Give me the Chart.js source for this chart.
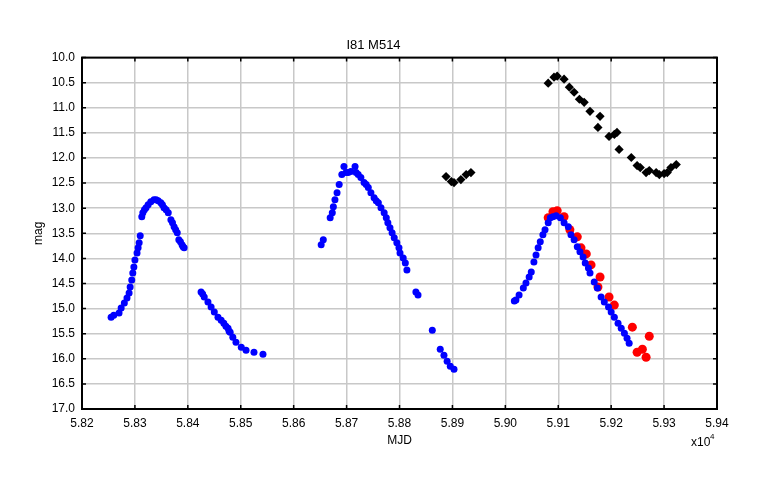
<!DOCTYPE html>
<html lang="en">
  <head>
    <meta charset="UTF-8" />
    <title>I81 M514</title>
    <script src="https://cdn.jsdelivr.net/npm/chart.js"></script>
    <style>
      html, body { margin: 0; padding: 0; background: #fff; }
      #wrap { width: 763px; height: 489px; }
    </style>
  </head>
  <body>
    <div id="wrap"><canvas id="lc"></canvas></div>

    <script>
      // Blue photometry (MJD, mag)
      const blueMjd = [
        58255, 58260, 58270, 58274, 58280, 58285, 58289, 58291, 58294, 58296,
        58298, 58300, 58304, 58306, 58308, 58310, 58313, 58315, 58318, 58321,
        58325, 58330, 58336, 58340, 58344, 58349, 58352, 58355, 58359, 58363,
        58368, 58371, 58374, 58377, 58380, 58383, 58386, 58389, 58391, 58393,
        58425, 58428, 58431, 58438, 58444, 58450, 58457, 58463, 58468, 58472,
        58476, 58478, 58480, 58485, 58491, 58501, 58510, 58525, 58542,
        58652, 58656, 58669, 58673, 58675, 58678, 58682, 58686, 58691, 58695,
        58699, 58703, 58708, 58716, 58718, 58722, 58727, 58733, 58737, 58741,
        58746, 58752, 58756, 58760, 58765, 58771, 58775, 58778, 58782, 58786,
        58790, 58795, 58799, 58801, 58807, 58811, 58814, 58831, 58835, 58862,
        58877, 58884, 58890, 58896, 58903,
        59017, 59020, 59026, 59034, 59039, 59045, 59049, 59054, 59058, 59062,
        59066, 59071, 59075, 59081, 59085, 59090, 59096, 59104, 59111, 59119,
        59124, 59130, 59136, 59141, 59147, 59151, 59157, 59160, 59168, 59174,
        59181, 59187, 59195, 59200, 59206, 59213, 59219, 59225, 59230, 59234
      ];
      const blueMag = [
        15.17, 15.13, 15.09, 14.99, 14.89, 14.79, 14.69, 14.57, 14.43, 14.29,
        14.17, 14.03, 13.89, 13.79, 13.69, 13.55, 13.17, 13.09, 13.03, 12.99,
        12.93, 12.87, 12.83, 12.83, 12.85, 12.89, 12.93, 12.99, 13.03, 13.09,
        13.23, 13.29, 13.37, 13.43, 13.49, 13.63, 13.67, 13.73, 13.77, 13.79,
        14.67, 14.71, 14.77, 14.87, 14.97, 15.07, 15.17, 15.23, 15.29, 15.35,
        15.39, 15.45, 15.47, 15.57, 15.67, 15.77, 15.83, 15.87, 15.91,
        13.73, 13.63, 13.19, 13.09, 12.97, 12.83, 12.69, 12.53, 12.33, 12.17,
        12.29, 12.29, 12.27, 12.17, 12.29, 12.33, 12.39, 12.49, 12.53, 12.59,
        12.69, 12.79, 12.85, 12.89, 12.99, 13.09, 13.19, 13.29, 13.39, 13.49,
        13.59, 13.69, 13.79, 13.89, 13.99, 14.09, 14.23, 14.67, 14.73, 15.43,
        15.81, 15.93, 16.05, 16.15, 16.21,
        14.85, 14.83, 14.73, 14.59, 14.49, 14.37, 14.27, 14.07, 13.93, 13.79,
        13.67, 13.53, 13.43, 13.29, 13.19, 13.17, 13.15, 13.19, 13.29, 13.37,
        13.53, 13.63, 13.77, 13.87, 13.97, 14.09, 14.19, 14.29, 14.47, 14.59,
        14.77, 14.87, 14.97, 15.07, 15.17, 15.29, 15.39, 15.49, 15.59, 15.69
      ];

      // Red photometry
      const redMjd = [
        59081, 59090, 59098, 59111, 59122, 59136, 59143, 59153, 59162, 59179,
        59175, 59196, 59206, 59240, 59272, 59249, 59259, 59266
      ];
      const redMag = [
        13.19, 13.07, 13.05, 13.17, 13.43, 13.57, 13.79, 13.91, 14.13, 14.37,
        14.57, 14.77, 14.93, 15.37, 15.55, 15.87, 15.81, 15.97
      ];

      // Black photometry
      const blackMjd = [
        58888, 58898, 58903, 58916, 58926, 58935,
        59081, 59092, 59098, 59111, 59121, 59130, 59140, 59149, 59160, 59179,
        59175, 59196, 59206, 59211, 59215, 59238, 59249, 59255, 59266, 59272,
        59285, 59291, 59300, 59306, 59313, 59323
      ];
      const blackMag = [
        12.37, 12.47, 12.49, 12.43, 12.33, 12.29,
        10.51, 10.39, 10.37, 10.43, 10.59, 10.69, 10.83, 10.89, 11.07, 11.17,
        11.39, 11.57, 11.53, 11.49, 11.83, 11.99, 12.15, 12.19, 12.29, 12.25,
        12.29, 12.33, 12.31, 12.29, 12.19, 12.13
      ];

      const toPoints = (xs, ys) => xs.map((x, i) => ({ x: x, y: ys[i] }));

      const FONT = "'Liberation Sans', Arial, Helvetica, sans-serif";

      // black frame, inward tick marks and the x10^4 exponent
      const framePlugin = {
        id: 'frame',
        afterDraw(chart) {
          const { ctx, chartArea: a, scales } = chart;
          ctx.save();
          ctx.strokeStyle = '#000';
          ctx.lineWidth = 1.5;
          const t = 4;
          ctx.beginPath();
          scales.x.ticks.forEach(tk => {
            const px = scales.x.getPixelForValue(tk.value);
            ctx.moveTo(px, a.bottom); ctx.lineTo(px, a.bottom - t);
            ctx.moveTo(px, a.top); ctx.lineTo(px, a.top + t);
          });
          scales.y.ticks.forEach(tk => {
            const py = scales.y.getPixelForValue(tk.value);
            ctx.moveTo(a.left, py); ctx.lineTo(a.left + t, py);
            ctx.moveTo(a.right, py); ctx.lineTo(a.right - t, py);
          });
          ctx.stroke();
          ctx.lineWidth = 2;
          ctx.strokeRect(a.left, a.top, a.right - a.left, a.bottom - a.top);

          ctx.fillStyle = '#000';
          ctx.textBaseline = 'alphabetic';
          ctx.textAlign = 'left';
          ctx.font = '12px ' + FONT;
          ctx.fillText('x10', 691, 446);
          ctx.font = '8px ' + FONT;
          ctx.fillText('4', 710, 439);
          ctx.restore();
        }
      };

      new Chart(document.getElementById('lc'), {
        type: 'scatter',
        data: {
          datasets: [
            {
              label: 'blue',
              data: toPoints(blueMjd, blueMag),
              backgroundColor: '#0000ff',
              borderColor: '#0000ff',
              pointRadius: 3.5,
              borderWidth: 0
            },
            {
              label: 'red',
              data: toPoints(redMjd, redMag),
              backgroundColor: '#ff0000',
              borderColor: '#ff0000',
              pointRadius: 4.5,
              borderWidth: 0
            },
            {
              label: 'black',
              data: toPoints(blackMjd, blackMag),
              backgroundColor: '#000',
              borderColor: '#000',
              pointStyle: 'rectRot',
              pointRadius: 4.6,
              borderWidth: 0
            }
          ]
        },
        options: {
          responsive: true,
          maintainAspectRatio: false,
          animation: false,
          layout: { padding: { left: 30, right: 46, top: 0, bottom: 0 } },
          plugins: {
            legend: { display: false },
            tooltip: { enabled: false },
            title: {
              display: true,
              text: 'I81 M514',
              color: '#000',
              font: { family: FONT, size: 13, weight: 'normal' },
              padding: { top: 38, bottom: 4 }
            }
          },
          scales: {
            x: {
              type: 'linear',
              min: 58200,
              max: 59400,
              afterFit(scale) { scale.height = 80; },
              ticks: {
                stepSize: 100,
                color: '#000',
                padding: 7,
                maxRotation: 0,
                font: { family: FONT, size: 12 },
                callback: v => (v / 10000).toFixed(2)
              },
              grid: { color: '#c8c8c8', lineWidth: 1.5, drawTicks: false },
              border: { display: false },
              title: {
                display: true,
                text: 'MJD',
                color: '#000',
                font: { family: FONT, size: 12 },
                padding: { top: 0, bottom: 41 }
              }
            },
            y: {
              reverse: true,
              min: 10,
              max: 17,
              afterFit(scale) { scale.width = 52; },
              ticks: {
                stepSize: 0.5,
                color: '#000',
                padding: 7,
                font: { family: FONT, size: 12 },
                callback: v => v.toFixed(1)
              },
              grid: { color: '#c8c8c8', lineWidth: 1.5, drawTicks: false },
              border: { display: false },
              title: {
                display: true,
                text: 'mag',
                color: '#000',
                font: { family: FONT, size: 12 },
                padding: { top: 1, bottom: 0 }
              }
            }
          }
        },
        plugins: [framePlugin]
      });
    </script>
  </body>
</html>
